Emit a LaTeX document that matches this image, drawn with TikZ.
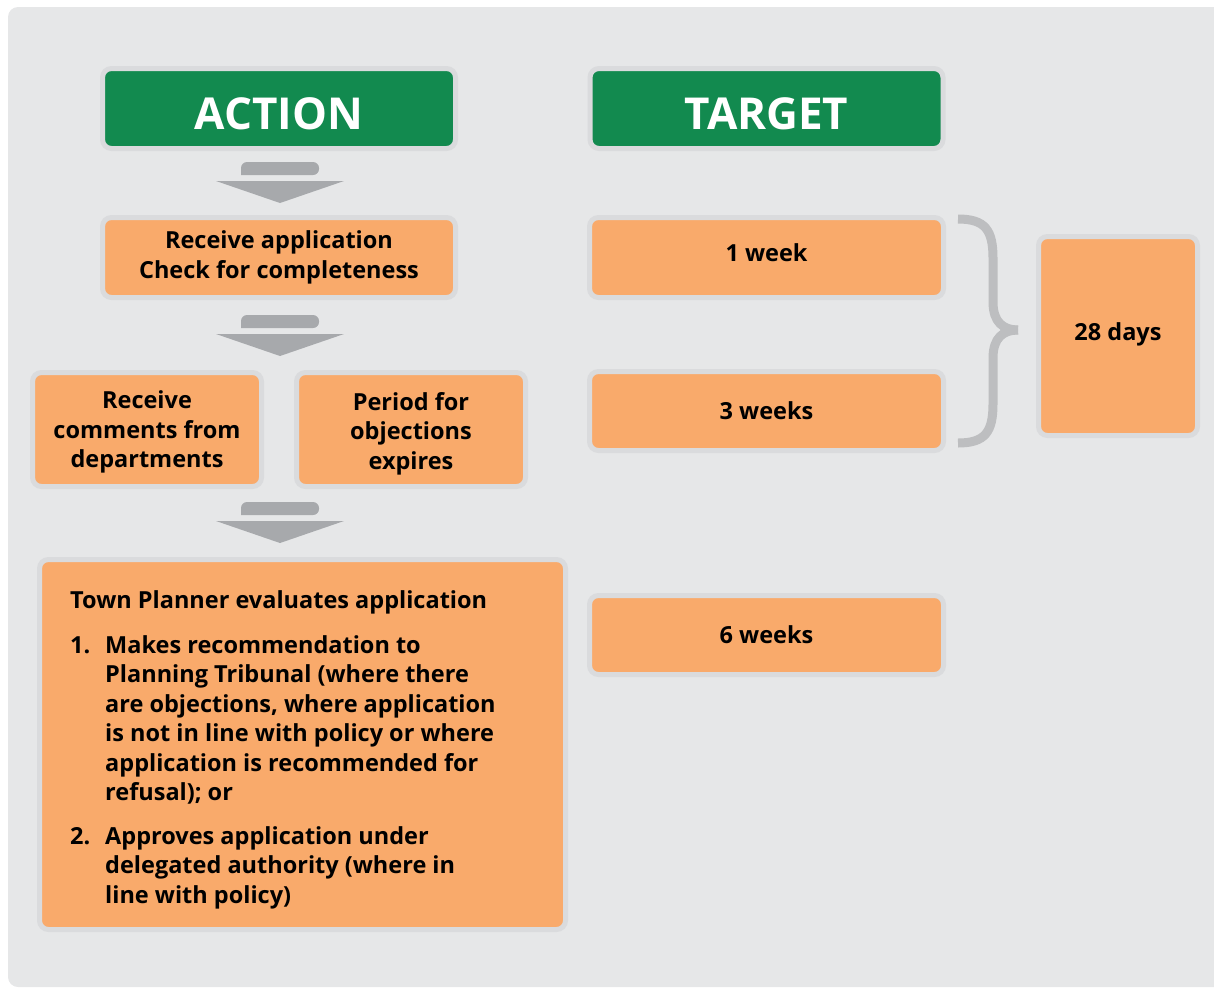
\documentclass[tikz,border=0pt]{standalone}
\usepackage{fontspec}
\setmainfont{Open Sans}
\definecolor{panelc}{HTML}{E6E7E8}
\definecolor{haloc}{HTML}{DADBDD}
\definecolor{orangec}{HTML}{F9AA6B}
\definecolor{greenc}{HTML}{128A4F}
\definecolor{arrowc}{HTML}{A7A9AC}
\definecolor{bracec}{HTML}{BDBEC0}
\tikzset{
  basebox/.style={rectangle, draw=haloc, line width=5pt, rounded corners=9pt, inner sep=0pt, align=center},
  headbox/.style={basebox, fill=greenc, text=white, minimum width=353pt, minimum height=80pt, text height=41pt, text depth=0pt, font=\fontsize{44}{50}\selectfont\bfseries},
  obox/.style={basebox, fill=orangec, text=black, font=\fontsize{23.5}{29.5}\selectfont\bfseries},
  otext/.style={inner sep=0pt, align=center, text=black, font=\fontsize{23.5}{29.5}\selectfont\bfseries},
  flowarrow/.pic={
    \fill[arrowc, rounded corners=6pt] (-39,13) -- (-39,0) -- (39,0) -- (39,13) [sharp corners] -- cycle;
    \fill[arrowc] (-64,19) -- (64,19) -- (0,41) -- cycle;
  }
}
\begin{document}
\begin{tikzpicture}[x=1pt,y=-1pt]
\useasboundingbox (0,0) rectangle (1214,988);
\begin{scope}
\clip (0,0) rectangle (1214,988);
\fill[panelc, rounded corners=10pt] (8,7) rectangle (1240,987);
\end{scope}

\node[headbox] (action) at (279,108.5) {ACTION};
\node[headbox] (target) at (766.5,108.5) {TARGET};

\node[obox, minimum width=353pt, minimum height=80pt] (recv) at (279,257.5) {Receive application\\Check for completeness};
\node[obox, minimum width=229pt, minimum height=114pt] (comments) at (147,429.5) {};
\node[otext] (commentstext) at (147,432) {Receive\\comments from\\departments};
\node[obox, minimum width=229pt, minimum height=114pt] (period) at (411,429.5) {};
\node[otext] (periodtext) at (411,433.5) {Period for\\objections\\expires};
\node[obox, minimum width=526pt, minimum height=370pt] (eval) at (302.5,744.5) {};
\node[anchor=north west, inner sep=0pt, align=left, font=\fontsize{23.5}{29.5}\selectfont\bfseries] (evaltext) at (70,590) {%
Town Planner evaluates application\\[18pt]
\begin{tabular}{@{}p{35pt}@{}l@{}}
1. & Makes recommendation to\\
   & Planning Tribunal (where there\\
   & are objections, where application\\
   & is not in line with policy or where\\
   & application is recommended for\\
   & refusal); or\\[14pt]
2. & Approves application under\\
   & delegated authority (where in\\
   & line with policy)
\end{tabular}};

\node[obox, minimum width=354pt, minimum height=80pt] (week1) at (766.5,257.5) {\raisebox{10pt}{1 week}};
\node[obox, minimum width=354pt, minimum height=79pt] (week3) at (766.5,411) {3 weeks};
\node[obox, minimum width=354pt, minimum height=79pt] (week6) at (766.5,635) {\raisebox{-2pt}{6 weeks}};
\node[obox, minimum width=159pt, minimum height=199pt] (days28) at (1118,336) {\raisebox{8pt}{28 days}};

\pic at (280,162) {flowarrow};
\pic at (280,315) {flowarrow};
\pic at (280,502) {flowarrow};

\draw[bracec, line width=9pt] (958,219) .. controls (985,219) and (993,230) .. (993,258) -- (993,302) .. controls (993,322) and (1003,330) .. (1018,330);
\draw[bracec, line width=9pt] (1018,330) .. controls (1003,330) and (993,338) .. (993,358) -- (993,404) .. controls (993,432) and (985,443) .. (958,443);
\end{tikzpicture}
\end{document}
